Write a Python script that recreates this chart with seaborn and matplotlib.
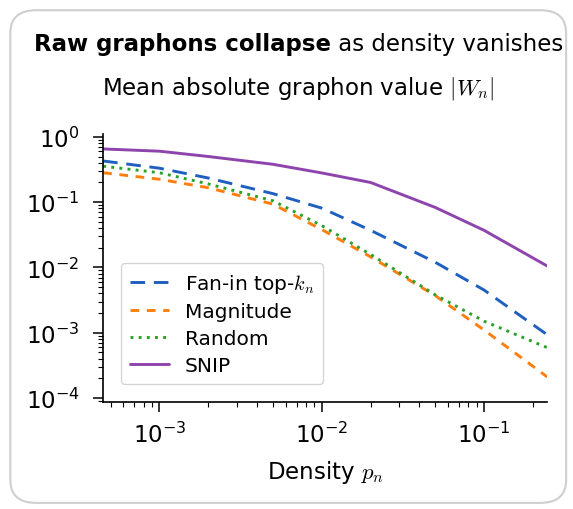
import matplotlib
matplotlib.use("Agg")
import numpy as np
import pandas as pd
import seaborn as sns
import matplotlib.pyplot as plt
from matplotlib.patches import FancyBboxPatch

# ---- data ----
density = [4.5e-4, 1e-3, 2e-3, 5e-3, 1e-2, 2e-2, 5e-2, 1e-1, 2.45e-1]
fanin = [0.427, 0.331, 0.234, 0.135, 0.081, 0.037, 0.012, 0.0045, 0.00093]
magnitude = [0.282, 0.224, 0.166, 0.0933, 0.038, 0.0145, 0.0037, 0.0011, 0.00021]
random_ = [0.355, 0.282, 0.19, 0.105, 0.0437, 0.0158, 0.0038, 0.0015, 0.00059]
snip = [0.653, 0.603, 0.50, 0.38, 0.28, 0.20, 0.083, 0.037, 0.0105]

methods = ["Fan-in top-$k_n$", "Magnitude", "Random", "SNIP"]
series = [fanin, magnitude, random_, snip]

df = pd.DataFrame({
    "density": np.tile(density, len(methods)),
    "value": np.concatenate(series),
    "method": np.repeat(methods, len(density)),
})

sns.set_theme(style="ticks")
plt.rcParams["font.family"] = ["DejaVu Sans"]
plt.rcParams["mathtext.fontset"] = "cm"
plt.rcParams["text.color"] = "black"
plt.rcParams["axes.labelcolor"] = "black"

palette = {methods[0]: "#1f5fbf", methods[1]: "#ff7f0e",
           methods[2]: "#2ca02c", methods[3]: "#8e44ad"}
dashes = {methods[0]: (5, 3), methods[1]: (3, 2.6),
          methods[2]: (1, 1.8), methods[3]: ""}

fig = plt.figure(figsize=(5.73, 5.10), dpi=100)
ax = fig.add_axes([0.180, 0.210, 0.775, 0.525])

sns.lineplot(data=df, x="density", y="value", hue="method", style="method",
             hue_order=methods, style_order=methods, palette=palette,
             dashes=dashes, linewidth=2.1, ax=ax)

ax.set_xscale("log")
ax.set_yscale("log")
ax.set_xlim(density[0], density[-1])
ax.set_ylim(8.7e-5, 1.1)
sns.despine(ax=ax)
for s in ["left", "bottom"]:
    ax.spines[s].set_color("black")
    ax.spines[s].set_linewidth(1.2)
ax.tick_params(which="major", length=7, width=1.1, labelsize=16.5,
               colors="black", pad=7)
ax.tick_params(axis="y", which="major", pad=10)
ax.tick_params(which="minor", length=3.5, width=0.8, colors="black")
ax.set_xlabel("Density $p_n$", fontsize=16.5, labelpad=8)
ax.set_ylabel("")

handles, labels = ax.get_legend_handles_labels()
leg = ax.legend(handles, labels, loc="lower left", bbox_to_anchor=(0.018, 0.03),
                fontsize=14.5, frameon=True, fancybox=True, handlelength=1.9,
                borderpad=0.45, labelspacing=0.38, handletextpad=0.8)
leg.get_frame().set_edgecolor("#cccccc")
leg.get_frame().set_linewidth(1.0)

# title with bold lead-in
renderer = fig.canvas.get_renderer()
t1 = fig.text(0, 0.912, "Raw graphons collapse", fontsize=16.5, weight="bold",
              va="center", ha="left")
t2 = fig.text(0, 0.912, " as density vanishes", fontsize=16.5, va="center", ha="left")
w1 = t1.get_window_extent(renderer).width / fig.bbox.width
w2 = t2.get_window_extent(renderer).width / fig.bbox.width
cx = 0.522
x0 = cx - (w1 + w2) / 2
t1.set_x(x0)
t2.set_x(x0 + w1)

fig.text(0.52, 0.827, "Mean absolute graphon value $|W_n|$", fontsize=16.5,
         ha="center", va="center")

border = FancyBboxPatch((0.018, 0.012), 0.97, 0.966, transform=fig.transFigure,
                        boxstyle="round,pad=0,rounding_size=0.045",
                        facecolor="none", edgecolor="#cfcfcf", linewidth=1.5)
fig.patches.append(border)

fig.savefig("out.png", dpi=100)
